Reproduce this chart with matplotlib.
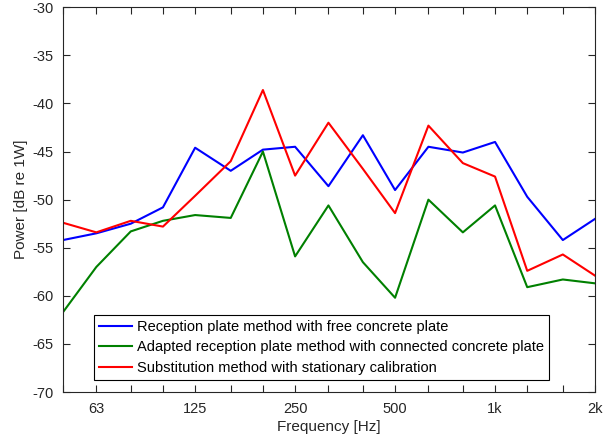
import matplotlib.pyplot as plt
from matplotlib.ticker import FixedLocator, NullFormatter

plt.rcParams['font.family'] = ['Liberation Sans', 'DejaVu Sans']

freqs = [50, 63, 80, 100, 125, 160, 200, 250, 315, 400, 500, 630, 800, 1000, 1250, 1600, 2000]

reception_free = [-54.2, -53.5, -52.5, -50.8, -44.6, -47.0, -44.8, -44.5, -48.6, -43.3,
                  -49.0, -44.5, -45.1, -44.0, -49.7, -54.2, -52.0]
adapted_connected = [-61.7, -57.0, -53.3, -52.2, -51.6, -51.9, -45.0, -55.9, -50.6, -56.5,
                     -60.2, -50.0, -53.4, -50.6, -59.1, -58.3, -58.7]
substitution = [-52.4, -53.4, -52.2, -52.8, -49.6, -46.0, -38.6, -47.5, -42.0, -46.8,
                -51.4, -42.3, -46.2, -47.6, -57.4, -55.7, -57.9]

tick_freqs = [63, 125, 250, 500, 1000, 2000]
tick_labels = ['63', '125', '250', '500', '1k', '2k']
yticks = list(range(-70, -29, 5))

fig = plt.figure(figsize=(6.15, 4.43), dpi=100)
ax = fig.add_axes([0.1024, 0.1151, 0.8651, 0.8684])

ax.plot(freqs, reception_free, color=(0, 0, 1), lw=1.5,
        label='Reception plate method with free concrete plate')
ax.plot(freqs, adapted_connected, color=(0, 0.5, 0), lw=1.5,
        label='Adapted reception plate method with connected concrete plate')
ax.plot(freqs, substitution, color=(1, 0, 0), lw=1.5,
        label='Substitution method with stationary calibration')

ax.set_xscale('log')
ax.set_xlim(50, 2000)
ax.set_ylim(-70, -30)
ax.xaxis.set_major_locator(FixedLocator(tick_freqs))
ax.set_xticklabels(tick_labels)
ax.xaxis.set_minor_locator(FixedLocator([f for f in freqs if f not in tick_freqs]))
ax.xaxis.set_minor_formatter(NullFormatter())
ax.set_yticks(yticks)
ax.set_yticklabels([str(v) for v in yticks])

edge = (0.15, 0.15, 0.15)
for s in ax.spines.values():
    s.set_color(edge)
    s.set_linewidth(0.8)
ax.tick_params(which='both', direction='in', top=True, right=True, colors=edge,
               labelcolor=edge, labelsize=10.5, width=0.8)
ax.tick_params(which='major', length=5, pad=7)
ax.tick_params(which='minor', length=5)

ax.set_xlabel('Frequency [Hz]', fontsize=11, color=edge, labelpad=3)
ax.set_ylabel('Power [dB re 1W]', fontsize=11, color=edge, labelpad=3)

leg = ax.legend(loc='lower left', bbox_to_anchor=(0.058, 0.031), borderaxespad=0,
                fontsize=10.5, fancybox=False, framealpha=1, edgecolor='black',
                handlelength=2.3, handletextpad=0.3, labelspacing=0.45,
                borderpad=0.35)
leg.get_frame().set_linewidth(0.8)

fig.savefig('out.png', dpi=100)
